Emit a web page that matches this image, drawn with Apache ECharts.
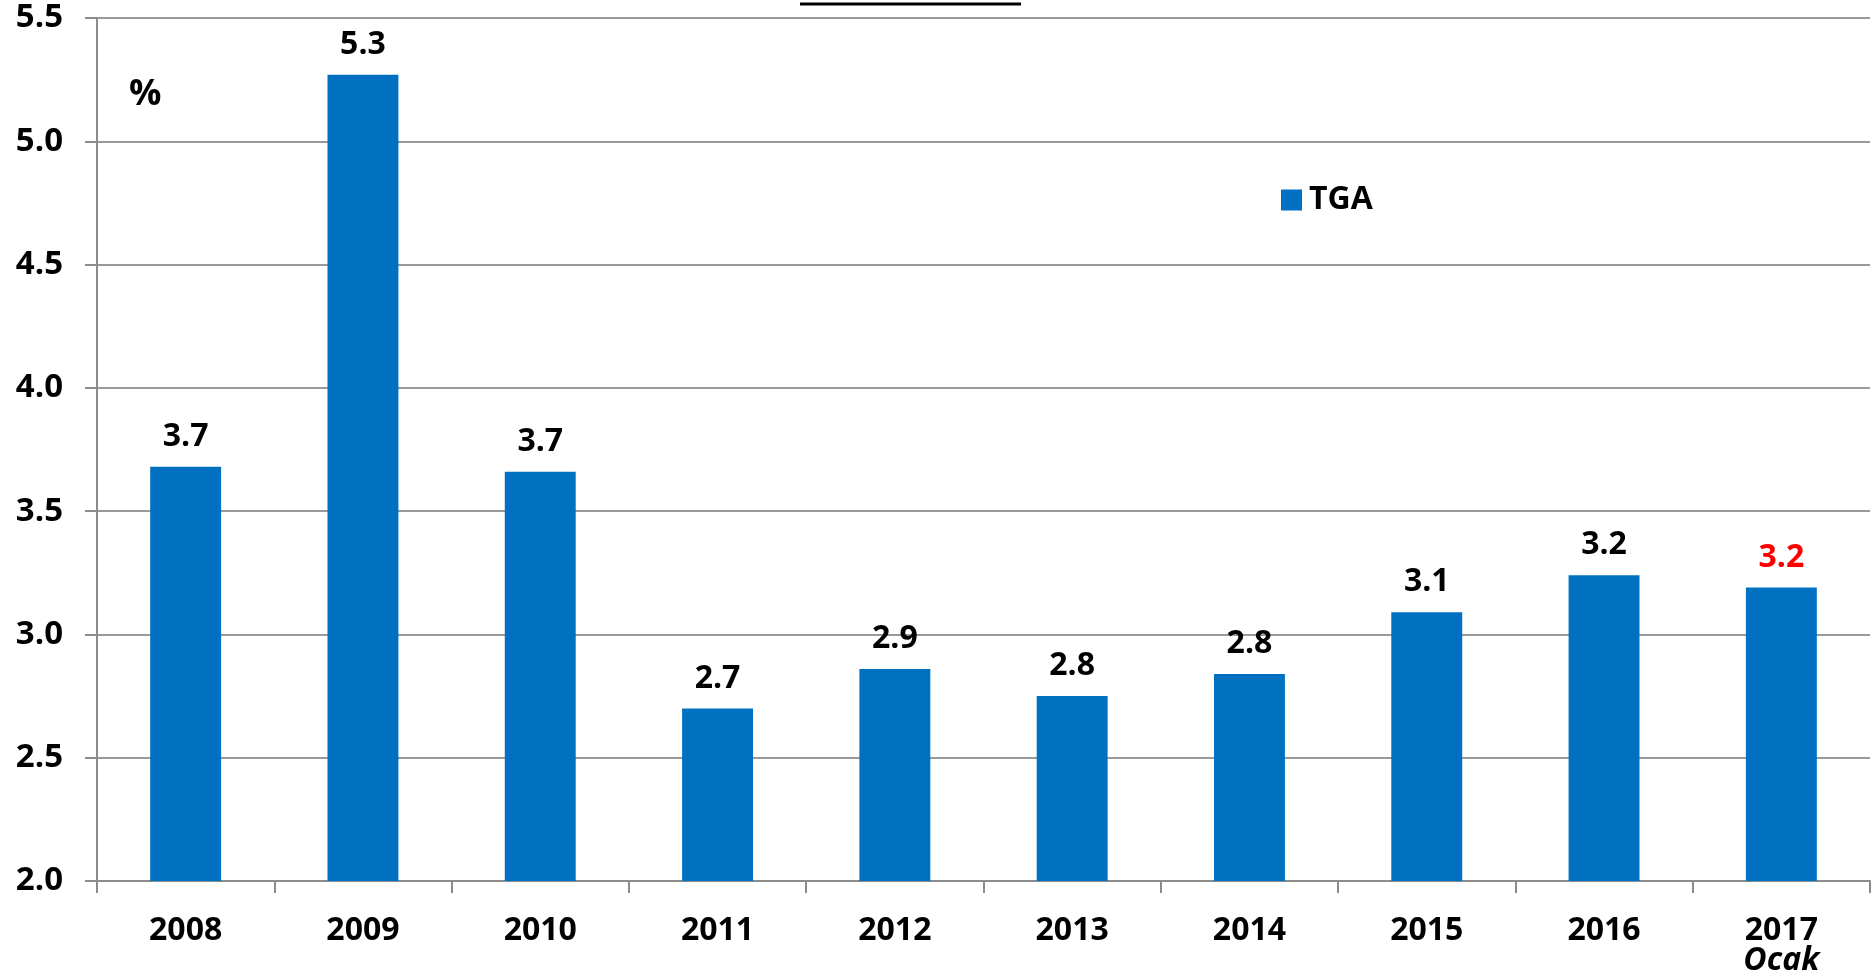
<!DOCTYPE html>
<html><head><meta charset="utf-8">
<script src="https://cdn.jsdelivr.net/npm/echarts@6/dist/echarts.min.js"></script>
<style>html,body{margin:0;padding:0;background:#fff}#c{width:1872px;height:973px}</style>
</head><body><div id="c"></div>
<script>
const categories = ['2008','2009','2010','2011','2012','2013','2014','2015','2016','2017'];
const subLabels = ['','','','','','','','','','Ocak'];
const tgaValues = [3.68, 5.27, 3.66, 2.70, 2.86, 2.75, 2.84, 3.09, 3.24, 3.19];
const valueLabels = ['3.7','5.3','3.7','2.7','2.9','2.8','2.8','3.1','3.2','3.2'];
const highlightIndex = 9;
const seriesName = 'TGA';
const unitText = '%';

const FONT = '"Open Sans", "Noto Sans", sans-serif';
const chart = echarts.init(document.getElementById('c'));
chart.setOption({
  animation: false,
  backgroundColor: '#fff',
  grid: {left: 97, right: 2, top: 18, bottom: 92, containLabel: false, outerBoundsMode: 'none'},
  legend: {
    data: [seriesName], left: 1281, top: 184, itemWidth: 21, itemHeight: 21, itemGap: 8,
    padding: 0, icon: 'rect',
    textStyle: {fontFamily: FONT, fontWeight: 'bold', fontSize: 32, color: '#000', padding: [0, 0, 0, 2]}
  },
  graphic: [
    {type: 'text', left: 129, top: 77, style: {text: unitText, font: 'bold 36px ' + FONT, fill: '#000'}},
    {type: 'line', shape: {x1: 800, y1: 4, x2: 1021, y2: 4}, style: {stroke: '#000', lineWidth: 3}}
  ],
  xAxis: {
    type: 'category', data: categories, boundaryGap: true,
    axisLine: {lineStyle: {color: '#8c8c8c', width: 2}},
    axisTick: {show: true, alignWithLabel: false, length: 12, lineStyle: {color: '#8c8c8c', width: 2}},
    axisLabel: {
      margin: 35, interval: 0,
      formatter: (v, i) => subLabels[i] ? v + '\n{i|' + subLabels[i] + '}' : v,
      fontFamily: FONT, fontWeight: 'bold', fontSize: 32, color: '#000', lineHeight: 30,
      rich: {i: {fontFamily: FONT, fontWeight: 'bold', fontStyle: 'italic', fontSize: 32, color: '#000', lineHeight: 30}}
    }
  },
  yAxis: {
    type: 'value', min: 2.0, max: 5.5, interval: 0.5,
    axisLine: {show: true, lineStyle: {color: '#8c8c8c', width: 2}},
    axisTick: {show: true, length: 12, lineStyle: {color: '#8c8c8c', width: 2}},
    splitLine: {lineStyle: {color: '#9a9a9a', width: 2}},
    axisLabel: {
      margin: 34, formatter: v => v.toFixed(1),
      fontFamily: FONT, fontWeight: 'bold', fontSize: 33, color: '#000'
    }
  },
  series: [{
    name: seriesName, type: 'bar', barWidth: '40%',
    itemStyle: {color: '#0070C0'},
    data: tgaValues.map((v, i) => ({
      value: v,
      label: i === highlightIndex ? {color: '#FF0000'} : undefined
    })),
    label: {
      show: true, position: 'top', distance: 14,
      formatter: p => valueLabels[p.dataIndex],
      fontFamily: FONT, fontWeight: 'bold', fontSize: 32, color: '#000'
    }
  }]
});
</script></body></html>
